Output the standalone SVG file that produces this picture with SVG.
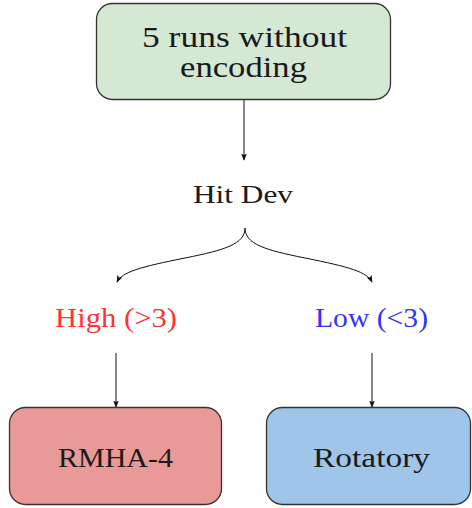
<svg xmlns="http://www.w3.org/2000/svg" width="472" height="508" viewBox="0 0 472 508">
<style>
.box{stroke:#333;stroke-width:1.3}
.t{font-family:"Liberation Serif","DejaVu Serif",serif;text-anchor:middle;fill:#1a1a1a}
.edge{fill:none;stroke:#111;stroke-width:1}
</style>
<defs>
<marker id="ah" viewBox="0 0 10 10" refX="9" refY="5" markerWidth="7" markerHeight="7" orient="auto" markerUnits="userSpaceOnUse">
<path d="M0,1 L10,5 L0,9 L2,5 z" fill="#111"/>
</marker>
</defs>
<rect width="472" height="508" fill="#fff"/>
<g id="connectors">
<line class="edge" x1="244" y1="100" x2="244" y2="160" marker-end="url(#ah)"/>
<path class="edge" d="M245,228 C245,244 225,250 185,258 C140,267 122,272 117,282" marker-end="url(#ah)"/>
<path class="edge" d="M245,228 C245,244 265,250 305,258 C350,267 367,272 372,282" marker-end="url(#ah)"/>
<line class="edge" x1="116" y1="353" x2="116" y2="407" marker-end="url(#ah)"/>
<line class="edge" x1="372" y1="353" x2="372" y2="407" marker-end="url(#ah)"/>
</g>
<g id="start">
<rect class="box" x="96.5" y="3.5" width="294" height="96" rx="16" fill="#d5e8d4"/>
<text class="t" x="244.5" y="47" font-size="29" textLength="205" lengthAdjust="spacingAndGlyphs">5 runs without</text>
<text class="t" x="243.5" y="77" font-size="29" textLength="127" lengthAdjust="spacingAndGlyphs">encoding</text>
</g>
<g id="hitdev">
<text class="t" x="243" y="203" font-size="26" fill="#222" textLength="100" lengthAdjust="spacingAndGlyphs">Hit Dev</text>
</g>
<g id="high">
<text class="t" x="116" y="327" font-size="27" style="fill:#ff3333" textLength="122" lengthAdjust="spacingAndGlyphs">High (&gt;3)</text>
</g>
<g id="low">
<text class="t" x="371.5" y="327" font-size="27" style="fill:#3333ff" textLength="113" lengthAdjust="spacingAndGlyphs">Low (&lt;3)</text>
</g>
<g id="rmha">
<rect class="box" x="9.5" y="407.5" width="212" height="97" rx="16" fill="#ea9999"/>
<text class="t" x="115.5" y="467" font-size="28" textLength="115" lengthAdjust="spacingAndGlyphs">RMHA-4</text>
</g>
<g id="rotatory">
<rect class="box" x="266.5" y="407.5" width="204" height="97" rx="16" fill="#9fc5e8"/>
<text class="t" x="371.5" y="467" font-size="28" textLength="117" lengthAdjust="spacingAndGlyphs">Rotatory</text>
</g>
</svg>
